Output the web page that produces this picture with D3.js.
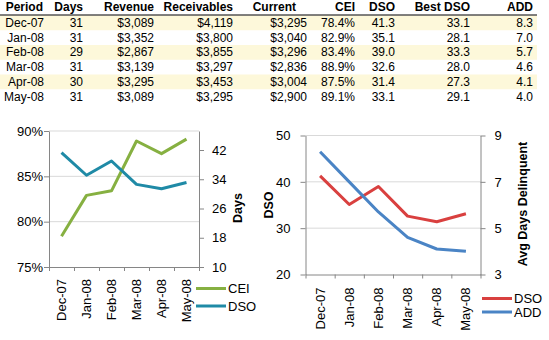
<!DOCTYPE html>
<html>
<head>
<meta charset="utf-8">
<script src="https://cdn.jsdelivr.net/npm/d3@7"></script>
<style>
  body { margin: 0; background: #fff; }
  text { font-family: "Liberation Sans", Arial, sans-serif; }
</style>
</head>
<body>
<div id="chart"></div>
<script>
const periods = ["Dec-07", "Jan-08", "Feb-08", "Mar-08", "Apr-08", "May-08"];
const days = [31, 31, 29, 31, 30, 31];
const revenue = [3089, 3352, 2867, 3139, 3295, 3089];
const receivables = [4119, 3800, 3855, 3297, 3453, 3295];
const current = [3295, 3040, 3296, 2836, 3004, 2900];
const cei = [78.4, 82.9, 83.4, 88.9, 87.5, 89.1];
const dso = [41.3, 35.1, 39.0, 32.6, 31.4, 33.1];
const bestDso = [33.1, 28.1, 33.3, 28.0, 27.3, 29.1];
const add = [8.3, 7.0, 5.7, 4.6, 4.1, 4.0];

const ceiTicks = [75, 80, 85, 90];
const daysTicks = [10, 18, 26, 34, 42];
const dsoTicks = [20, 30, 40, 50];
const addTicks = [3, 5, 7, 9];

const width = 549;
const height = 340;

const svg = d3.select("#chart")
  .append("svg")
  .attr("width", width)
  .attr("height", height);

svg.append("rect").attr("width", width).attr("height", height).attr("fill", "#fff");

// ---- table ----
const fmtMoney = d3.format("$,");
const fmt1 = d3.format(".1f");

const columns = [
  { header: "Period", values: periods, fmt: (d) => d, x: 44, hx: 43 },
  { header: "Days", values: days, fmt: (d) => d, x: 83, hx: 83 },
  { header: "Revenue", values: revenue, fmt: fmtMoney, x: 154, hx: 154 },
  { header: "Receivables", values: receivables, fmt: fmtMoney, x: 233, hx: 233 },
  { header: "Current", values: current, fmt: fmtMoney, x: 307, hx: 296 },
  { header: "CEI", values: cei, fmt: (d) => fmt1(d) + "%", x: 355, hx: 355 },
  { header: "DSO", values: dso, fmt: fmt1, x: 395, hx: 395 },
  { header: "Best DSO", values: bestDso, fmt: fmt1, x: 470, hx: 470 },
  { header: "ADD", values: add, fmt: fmt1, x: 533, hx: 533 },
];

const rowY = d3.scaleBand().domain(periods).range([15.5, 15.5 + 6 * 14.75]);

const table = svg.append("g").attr("class", "table");

table.selectAll("rect.band")
  .data(periods.filter((d, i) => i % 2 === 0))
  .join("rect")
  .attr("class", "band")
  .attr("x", 0)
  .attr("width", 537)
  .attr("y", (d) => rowY(d))
  .attr("height", rowY.bandwidth())
  .attr("fill", "#fdf8da");

table.append("line")
  .attr("x1", 0).attr("x2", 537)
  .attr("y1", 15).attr("y2", 15)
  .attr("stroke", "#000")
  .attr("stroke-width", 1);

columns.forEach((col) => {
  table.append("text")
    .attr("x", col.hx)
    .attr("y", 11)
    .attr("text-anchor", "end")
    .attr("font-size", 12)
    .attr("font-weight", "bold")
    .text(col.header);

  table.selectAll(null)
    .data(col.values)
    .join("text")
    .attr("x", col.x)
    .attr("y", (d, i) => rowY(periods[i]) + rowY.bandwidth() / 2 + 4)
    .attr("text-anchor", "end")
    .attr("font-size", 12)
    .text((d) => col.fmt(d));
});

// ---- dual axis line charts ----
const drawChart = (cfg) => {
  const x = d3.scaleBand().domain(periods).range(cfg.xRange);
  const xIdx = d3.scaleLinear().domain([0, periods.length]).range(cfg.xRange);
  const yL = d3.scaleLinear().domain(cfg.leftDomain).range([cfg.bottom, cfg.top]);
  const yR = d3.scaleLinear().domain(cfg.rightDomain).range([cfg.bottom, cfg.top]);

  const g = svg.append("g");

  g.selectAll("line.grid")
    .data(cfg.leftTicks.slice(1))
    .join("line")
    .attr("class", "grid")
    .attr("x1", cfg.xRange[0]).attr("x2", cfg.xRange[1])
    .attr("y1", (d) => yL(d)).attr("y2", (d) => yL(d))
    .attr("stroke", "#d9d9d9");

  const styleAxis = (a) => {
    a.attr("color", "#868686")
      .attr("font-family", "Liberation Sans, Arial, sans-serif")
      .attr("font-size", 13);
    a.selectAll("text").attr("fill", "#000");
  };

  g.append("g")
    .attr("transform", `translate(${cfg.xRange[0]},0)`)
    .call(d3.axisLeft(yL).tickValues(cfg.leftTicks).tickFormat(cfg.leftFormat)
      .tickSize(5).tickSizeOuter(0).tickPadding(cfg.leftPad))
    .call(styleAxis);

  g.append("g")
    .attr("transform", `translate(${cfg.xRange[1]},0)`)
    .call(d3.axisRight(yR).tickValues(cfg.rightTicks).tickFormat(d3.format("d"))
      .tickSize(5).tickSizeOuter(0).tickPadding(cfg.rightPad))
    .call(styleAxis);

  g.append("g")
    .attr("transform", `translate(0,${cfg.bottom})`)
    .call(d3.axisBottom(xIdx).tickValues(d3.range(periods.length + 1))
      .tickFormat("").tickSize(4).tickSizeOuter(0))
    .call(styleAxis);

  g.selectAll("text.xlab")
    .data(periods)
    .join("text")
    .attr("class", "xlab")
    .attr("transform", (d) => `translate(${x(d) + x.bandwidth() / 2 + 4.5},${cfg.bottom + cfg.labelGap}) rotate(-90)`)
    .attr("text-anchor", "end")
    .attr("font-size", 13)
    .text((d) => d);

  cfg.series.forEach((s) => {
    const y = s.axis === "left" ? yL : yR;
    const line = d3.line()
      .x((d, i) => x(periods[i]) + x.bandwidth() / 2)
      .y((d) => y(d));
    g.append("path")
      .datum(s.values)
      .attr("d", line)
      .attr("fill", "none")
      .attr("stroke", s.color)
      .attr("stroke-width", 3)
      .attr("stroke-linejoin", "round");
  });

  const legend = g.selectAll("g.legend")
    .data(cfg.series)
    .join("g")
    .attr("class", "legend")
    .attr("transform", (d, i) => `translate(${cfg.legend.x},${cfg.legend.y + i * cfg.legend.step})`);

  legend.append("line")
    .attr("x1", 0).attr("x2", 30)
    .attr("stroke", (d) => d.color)
    .attr("stroke-width", 3);

  legend.append("text")
    .attr("x", 32)
    .attr("y", 4.5)
    .attr("font-size", 13)
    .text((d) => d.name);

  cfg.titles.forEach((t) => {
    g.append("text")
      .attr("transform", `translate(${t.x},${t.y}) rotate(-90)`)
      .attr("text-anchor", "middle")
      .attr("font-size", 12.5)
      .attr("font-weight", "bold")
      .text(t.text);
  });
};

drawChart({
  xRange: [49, 199],
  top: 131,
  bottom: 267,
  leftDomain: [75, 90],
  rightDomain: [10, 47.2],
  leftTicks: ceiTicks,
  rightTicks: daysTicks,
  leftFormat: (d) => d + "%",
  leftPad: 1,
  rightPad: 8,
  labelGap: 12,
  series: [
    { name: "CEI", values: cei, axis: "left", color: "#86b041" },
    { name: "DSO", values: dso, axis: "right", color: "#1f8aa6" },
  ],
  legend: { x: 196, y: 288.5, step: 17.5 },
  titles: [{ text: "Days", x: 242, y: 208 }],
});

drawChart({
  xRange: [305.5, 480.5],
  top: 135.5,
  bottom: 274.5,
  leftDomain: [20, 50],
  rightDomain: [3, 9],
  leftTicks: dsoTicks,
  rightTicks: addTicks,
  leftFormat: (d) => d,
  leftPad: 10,
  rightPad: 9,
  labelGap: 13,
  series: [
    { name: "DSO", values: dso, axis: "left", color: "#d9403f" },
    { name: "ADD", values: add, axis: "right", color: "#4a84c5" },
  ],
  legend: { x: 482, y: 298.5, step: 13.5 },
  titles: [
    { text: "DSO", x: 273, y: 205 },
    { text: "Avg Days Delinquent", x: 527, y: 204 },
  ],
});
</script>
</body>
</html>
